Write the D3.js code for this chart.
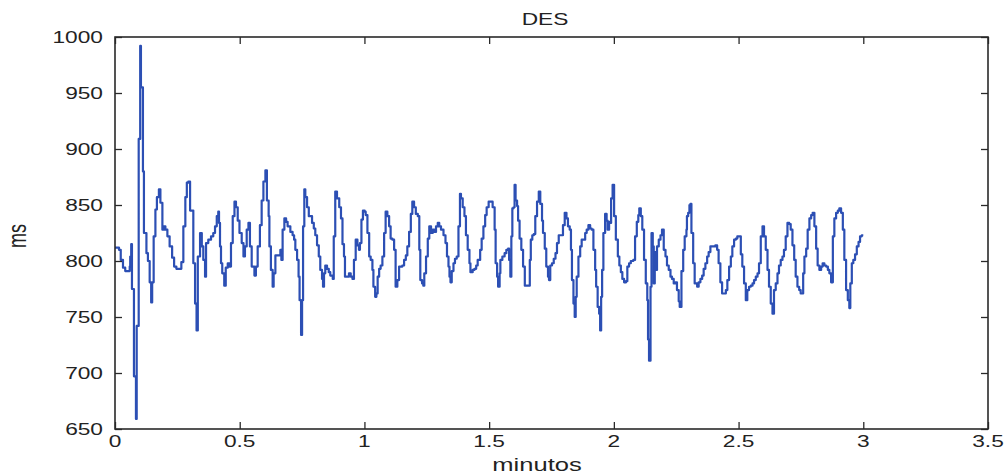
<!DOCTYPE html>
<html><head><meta charset="utf-8">
<script src="https://cdn.jsdelivr.net/npm/d3@7"></script>
<style>html,body{margin:0;padding:0;background:#fff;overflow:hidden}</style>
</head><body>
<svg id="chart" width="1008" height="475"></svg>
<script>
const title = "DES";
const xLabel = "minutos";
const yLabel = "ms";
const xTicks = [0, 0.5, 1, 1.5, 2, 2.5, 3, 3.5];
const xTickLabels = ["0", "0.5", "1", "1.5", "2", "2.5", "3", "3.5"];
const yTicks = [650, 700, 750, 800, 850, 900, 950, 1000];
const yTickLabels = ["650", "700", "750", "800", "850", "900", "950", "1000"];

const minutes = [
0.000,0.016,0.023,0.032,0.041,0.052,0.059,0.061,0.065,0.068,0.073,0.076,0.081,0.084,0.087,0.092,0.095,0.099,0.101,0.104,
0.109,0.112,0.116,0.121,0.126,0.132,0.139,0.145,0.149,0.155,0.162,0.168,0.176,0.182,0.190,0.196,0.202,0.210,0.219,0.229,
0.237,0.246,0.259,0.266,0.274,0.282,0.288,
0.294,0.301,0.314,0.321,0.327,0.332,0.341,0.348,0.354,0.361,0.365,0.374,0.385,0.394,0.401,0.408,0.414,0.417,0.421,0.425,
0.430,0.438,0.444,0.452,0.459,0.465,0.472,0.479,0.485,0.492,0.499,0.508,0.515,0.521,0.528,0.535,0.541,0.548,0.559,0.565,
0.572,0.581,0.588,0.595,
0.603,0.609,0.616,0.619,0.625,0.632,0.636,0.643,0.656,0.663,0.667,0.672,0.679,0.686,0.692,0.703,0.712,0.718,0.723,0.730,
0.736,0.740,0.746,0.750,0.754,0.759,0.763,0.770,0.777,0.790,0.797,0.803,0.810,0.817,0.823,0.830,0.834,0.838,0.843,0.850,
0.857,0.863,0.873,0.877,0.883,0.890,0.899,0.906,
0.912,0.918,0.922,0.932,0.938,0.945,0.952,0.958,0.965,0.972,0.978,0.982,0.988,0.994,1.001,1.005,1.012,1.019,1.025,1.032,
1.036,1.043,1.048,1.053,1.059,1.065,1.072,1.079,1.085,1.092,1.099,1.105,1.112,1.119,1.125,1.132,1.139,1.152,1.159,1.166,
1.172,1.179,1.186,1.192,1.199,1.206,
1.214,1.220,1.224,1.231,1.236,1.240,1.247,1.254,1.260,1.267,1.274,1.280,1.287,1.294,1.300,1.307,1.317,1.325,1.331,1.337,
1.341,1.345,1.350,1.357,1.363,1.370,1.377,1.383,1.387,1.394,1.401,1.407,1.414,1.421,1.425,1.434,1.441,1.448,1.454,1.464,
1.470,1.477,1.484,1.490,1.498,1.508,1.514,
1.522,1.526,1.532,1.536,1.542,1.545,1.553,1.562,1.569,1.576,1.580,1.585,1.589,1.593,1.598,1.602,1.606,1.612,1.616,1.622,
1.629,1.636,1.643,1.656,1.663,1.667,1.673,1.679,1.685,1.692,1.699,1.705,1.712,1.716,1.723,1.729,1.736,1.740,1.745,1.752,
1.759,1.766,1.772,1.779,1.790,1.796,1.803,1.810,1.816,1.823,
1.828,1.832,1.838,1.843,1.847,1.851,1.858,1.865,1.871,1.878,1.885,1.891,1.898,1.905,1.911,1.918,1.925,1.929,1.935,1.941,
1.945,1.949,1.953,1.958,1.965,1.971,1.975,1.981,1.985,1.989,1.995,2.001,2.008,2.016,2.022,2.028,2.034,2.041,2.049,2.054,
2.061,2.068,2.078,2.085,2.092,2.098,2.102,2.108,2.114,2.121,2.128,2.134,
2.137,2.141,2.147,2.151,2.156,2.160,2.164,2.169,2.173,2.180,2.187,2.193,2.200,2.207,2.213,2.220,2.227,2.233,2.240,2.247,
2.253,2.260,2.264,2.271,2.278,2.284,2.291,2.293,2.298,2.303,2.307,2.311,2.318,2.324,2.334,2.340,2.347,2.354,2.360,2.367,
2.374,2.380,2.387,2.407,2.414,2.420,2.427,2.434,2.441,
2.449,2.455,2.462,2.469,2.475,2.482,2.489,2.495,2.502,2.509,2.515,2.522,2.529,2.535,2.542,2.549,2.556,2.562,2.569,2.576,
2.582,2.589,2.596,2.602,2.609,2.616,2.622,2.629,2.636,2.642,2.649,2.656,2.662,2.669,2.676,2.682,2.689,2.696,2.703,2.709,
2.716,2.723,2.729,2.736,2.743,2.749,
2.759,2.764,2.771,2.777,2.784,2.791,2.797,2.804,2.811,2.817,2.824,2.831,2.837,2.844,2.851,2.858,2.864,2.871,2.878,2.884,
2.891,2.898,2.904,2.911,2.918,2.924,2.931,2.938,2.944,2.948,2.954,2.960,2.967,2.974,2.981,2.987,2.994,3.000
];
const ms = [
812,810,801,794,791,791,795,804,815,775,775,697,697,659,742,742,909,909,992,955,
955,880,825,825,807,800,781,763,781,822,846,857,864,852,828,831,828,822,813,803,
795,793,793,799,831,857,870,
871,845,798,762,738,804,825,813,801,786,816,819,822,825,831,840,844,834,813,798,
789,778,794,798,795,816,840,853,848,836,825,816,804,813,828,834,813,795,787,795,
813,832,854,871,
881,854,840,813,792,777,789,805,805,810,801,828,838,835,831,826,823,819,810,801,
786,765,734,765,831,864,857,848,840,834,829,823,814,804,792,784,777,789,796,793,
790,787,784,822,862,856,848,838,
815,804,786,786,789,786,784,801,819,814,810,816,837,845,844,841,825,804,801,792,
777,768,771,786,793,796,804,825,844,840,831,820,819,810,777,783,795,796,801,805,
813,826,842,853,848,842,
840,810,783,780,778,789,804,820,831,825,828,826,831,834,831,828,823,816,804,795,
786,781,791,798,802,804,831,860,856,848,840,823,810,798,790,792,793,796,801,810,
820,831,841,848,853,853,848,
828,798,786,777,789,801,804,807,810,811,801,786,822,847,848,868,854,849,836,820,
810,795,778,778,801,819,823,824,840,853,862,851,836,825,811,795,786,783,796,798,
802,807,816,823,823,832,843,838,831,828,
810,783,762,750,768,786,804,813,819,819,825,828,832,829,828,810,792,777,759,753,
738,768,792,825,842,836,828,835,834,856,868,840,819,804,796,790,784,781,782,795,
798,800,801,822,835,841,847,840,828,801,780,765,
730,711,777,825,813,780,808,792,813,819,823,828,810,804,796,792,786,784,780,781,
774,764,759,791,810,822,828,840,843,850,851,825,798,780,777,781,784,787,793,798,
804,808,813,814,810,798,781,771,771,
774,783,795,804,813,819,820,822,822,806,795,780,765,774,777,778,780,783,786,789,
798,822,831,822,810,792,777,762,753,774,780,789,796,801,804,810,822,834,833,828,
814,801,786,777,774,771,
789,804,811,828,838,841,843,831,811,796,792,795,798,796,795,792,789,781,822,838,
843,845,847,843,828,801,774,765,758,780,798,801,806,813,817,822,823,823
];

const W = 1008, H = 475;
const m = {left: 115, right: 988, top: 37, bottom: 429};
const svg = d3.select("#chart");
svg.append("rect").attr("width", W).attr("height", H).attr("fill", "#fff");

const x = d3.scaleLinear().domain([0, 3.5]).range([m.left, m.right]);
const y = d3.scaleLinear().domain([650, 1000]).range([m.bottom, m.top]);

const font = "Liberation Sans, Arial, Helvetica, sans-serif";
const SX = 1.42;
const axisColor = "#2a2a2a";
const tickLen = 7;

// data line
const data = minutes.map((t, i) => ({t, v: ms[i]}));
svg.append("path")
  .datum(data)
  .attr("fill", "none")
  .attr("stroke", "#2c4fb4")
  .attr("stroke-width", 2.2)
  .attr("stroke-linejoin", "round")
  .attr("d", d3.line().x(d => x(d.t)).y(d => y(d.v)).curve(d3.curveStepAfter));

// axes via d3 axis (ticks inward)
const gB = svg.append("g").attr("transform", `translate(0,${m.bottom})`)
  .call(d3.axisBottom(x).tickValues(xTicks).tickSizeInner(-tickLen).tickSizeOuter(0).tickFormat(""));
const gT = svg.append("g").attr("transform", `translate(0,${m.top})`)
  .call(d3.axisTop(x).tickValues(xTicks).tickSizeInner(-tickLen).tickSizeOuter(0).tickFormat(""));
const gL = svg.append("g").attr("transform", `translate(${m.left},0)`)
  .call(d3.axisLeft(y).tickValues(yTicks).tickSizeInner(-tickLen).tickSizeOuter(0).tickFormat(""));
const gR = svg.append("g").attr("transform", `translate(${m.right},0)`)
  .call(d3.axisRight(y).tickValues(yTicks).tickSizeInner(-tickLen).tickSizeOuter(0).tickFormat(""));
[gB, gT, gL, gR].forEach(g => {
  g.selectAll("path.domain").remove();
  g.selectAll("line").attr("stroke", axisColor).attr("stroke-width", 1.3);
});

// box
svg.append("rect")
  .attr("x", m.left).attr("y", m.top)
  .attr("width", m.right - m.left).attr("height", m.bottom - m.top)
  .attr("fill", "none").attr("stroke", axisColor).attr("stroke-width", 1.6);

function label(txt, px, py, anchor, size, rot) {
  const g = svg.append("g").attr("transform", `translate(${px},${py}) scale(${SX},1)` + (rot ? ` rotate(${rot})` : ""));
  g.append("text").text(txt)
    .attr("text-anchor", anchor)
    .attr("font-family", font)
    .attr("font-size", size)
    .attr("fill", "#222");
}

xTicks.forEach((t, i) => label(xTickLabels[i], x(t), 447, "middle", 16));
yTicks.forEach((v, i) => label(yTickLabels[i], 103, y(v) + 6, "end", 16));
label(title, 545, 25, "middle", 16);
label(xLabel, 537, 471, "middle", 18);
label(yLabel, 26, 236, "middle", 18, -90);
</script>
</body></html>
